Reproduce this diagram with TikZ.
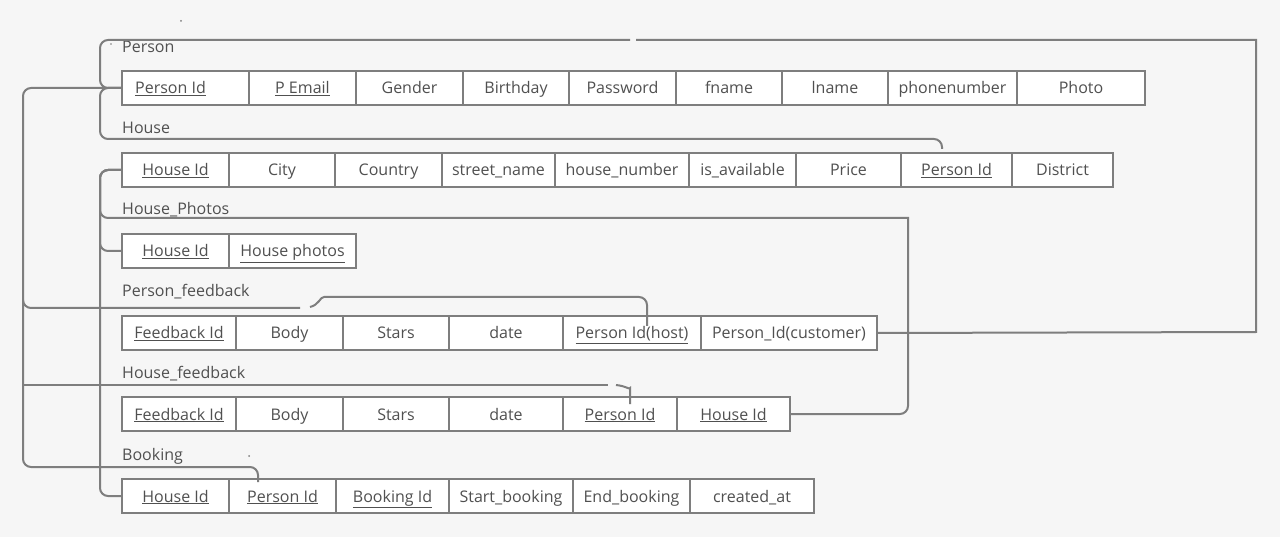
\documentclass[tikz,border=0pt]{standalone}
\usepackage{fontspec}
\setmainfont{Open Sans}
\definecolor{bg}{HTML}{F6F6F6}
\definecolor{ln}{HTML}{7E7E7E}
\definecolor{tx}{HTML}{505050}
\tikzset{
  cell/.style={draw=ln, line width=2.2pt, fill=white, minimum height=34pt, inner sep=0pt, text height=13.5pt, text depth=1.5pt, text=tx, font=\fontsize{16}{19}\selectfont},
  title/.style={anchor=west, inner sep=0pt, text height=13.5pt, text depth=1.5pt, text=tx, font=\fontsize{16}{19}\selectfont},
  conn/.style={draw=ln, line width=2pt, rounded corners=8pt},
  speck/.style={fill=ln, draw=none}
}
\newcommand\cellnode[5]{%
  \pgfmathsetmacro\cw{#3-#2}\pgfmathsetmacro\cx{(#2+#3)/2}%
  \node[cell, minimum width=\cw pt] (#1) at (\cx,#4+17) {#5};}
\newcommand\ul[1]{\underline{#1}}
\begin{document}
\begin{tikzpicture}[x=1pt,y=-1pt]
\fill[bg] (0,0) rectangle (1280,537);
\useasboundingbox (0,0) rectangle (1280,537);

% titles
\node[title] (tPerson) at (122,47) {Person};
\node[title] (tHouse) at (122,128) {House};
\node[title] (tPhotos) at (122,209) {House\_Photos};
\node[title] (tPF) at (122,291) {Person\_feedback};
\node[title] (tHF) at (122,372) {House\_feedback};
\node[title] (tBook) at (122,454) {Booking};

% Person
\cellnode{p1}{122}{249}{71}{\ul{Person Id}\kern30pt\relax}
\cellnode{p2}{249}{356}{71}{\ul{P Email}}
\cellnode{p3}{356}{463}{71}{Gender}
\cellnode{p4}{463}{569}{71}{Birthday}
\cellnode{p5}{569}{676}{71}{Password}
\cellnode{p6}{676}{782}{71}{fname}
\cellnode{p7}{782}{888}{71}{lname}
\cellnode{p8}{888}{1017}{71}{phonenumber}
\cellnode{p9}{1017}{1145}{71}{Photo}

% House
\cellnode{h1}{122}{229}{153}{\ul{House Id}}
\cellnode{h2}{229}{335}{153}{City}
\cellnode{h3}{335}{442}{153}{Country}
\cellnode{h4}{442}{555}{153}{street\_name}
\cellnode{h5}{555}{689}{153}{house\_number}
\cellnode{h6}{689}{796}{153}{is\_available}
\cellnode{h7}{796}{901}{153}{Price}
\cellnode{h8}{901}{1012}{153}{\ul{Person Id}}
\cellnode{h9}{1012}{1113}{153}{District}

% House_Photos
\cellnode{hp1}{122}{229}{234}{\ul{House Id}}
\cellnode{hp2}{229}{356}{234}{\ul{House photos}}

% Person_feedback
\cellnode{pf1}{122}{236}{316}{\ul{Feedback Id}}
\cellnode{pf2}{236}{343}{316}{Body}
\cellnode{pf3}{343}{449}{316}{Stars}
\cellnode{pf4}{449}{563}{316}{date}
\cellnode{pf5}{563}{701}{316}{\ul{Person Id(host)}}
\cellnode{pf6}{701}{877}{316}{Person\_Id(customer)}

% House_feedback
\cellnode{hf1}{122}{236}{397}{\ul{Feedback Id}}
\cellnode{hf2}{236}{343}{397}{Body}
\cellnode{hf3}{343}{449}{397}{Stars}
\cellnode{hf4}{449}{563}{397}{date}
\cellnode{hf5}{563}{677}{397}{\ul{Person Id}}
\cellnode{hf6}{677}{790}{397}{\ul{House Id}}

% Booking
\cellnode{b1}{122}{229}{479}{\ul{House Id}}
\cellnode{b2}{229}{336}{479}{\ul{Person Id}}
\cellnode{b3}{336}{449}{479}{\ul{Booking Id}}
\cellnode{b4}{449}{573}{479}{Start\_booking}
\cellnode{b5}{573}{690}{479}{End\_booking}
\cellnode{b6}{690}{814}{479}{created\_at}

% connector ends / gaps
\coordinate (gapA) at (630,40);
\coordinate (gapB) at (636,40);
\coordinate (hPid) at (942,149);
\coordinate (bPid) at (258,482);
\coordinate (pfHost) at (647,326);
\coordinate (hfPid) at (630,404);

% Person.Id -> Person_feedback customer
\draw[conn] (p1.west) -- (100,88) -- (100,40) -- (gapA);
\draw[conn, rounded corners=0pt] (gapB) -- (1256,40) -- (1256,332) -- (pf6.east);
% Person.Id -> House.Person Id
\draw[conn] (p1.west) -- (100,88) -- (100,139) -- (942,139) -- (hPid);
% Person.Id -> Booking.Person Id
\draw[conn] (p1.west) -- (23,88) -- (23,467) -- (258,467) -- (bPid);
% Person.Id -> Person_feedback host
\draw[conn] (23,300) -- (23,308) [rounded corners=0pt] -- (300,308);
\draw[conn] (310,307) .. controls (319,305) and (320,297) .. (332,297) [rounded corners=8pt] -- (647,297) -- (pfHost);
% Person.Id -> House_feedback Person Id
\draw[conn, rounded corners=0pt] (23,380) -- (23,385) -- (608,385);
\draw[conn] (616,385) .. controls (626,386) and (630,390) .. (630,396) -- (hfPid);

% House.Id -> Booking.House Id
\draw[conn] (h1.west) -- (100,170) -- (100,496) -- (b1.west);
% House.Id -> House_Photos
\draw[conn] (h1.west) -- (100,170) -- (100,251) -- (hp1.west);
% House.Id -> House_feedback House Id
\draw[conn] (h1.west) -- (100,170) -- (100,218) [rounded corners=0pt] -- (908,218) [rounded corners=8pt] -- (908,414) -- (hf6.east);

% specks
\fill[speck] (181,21) circle (1pt);
\fill[speck] (111,44) circle (0.8pt);
\fill[speck] (249,456) circle (1pt);
\end{tikzpicture}
\end{document}
